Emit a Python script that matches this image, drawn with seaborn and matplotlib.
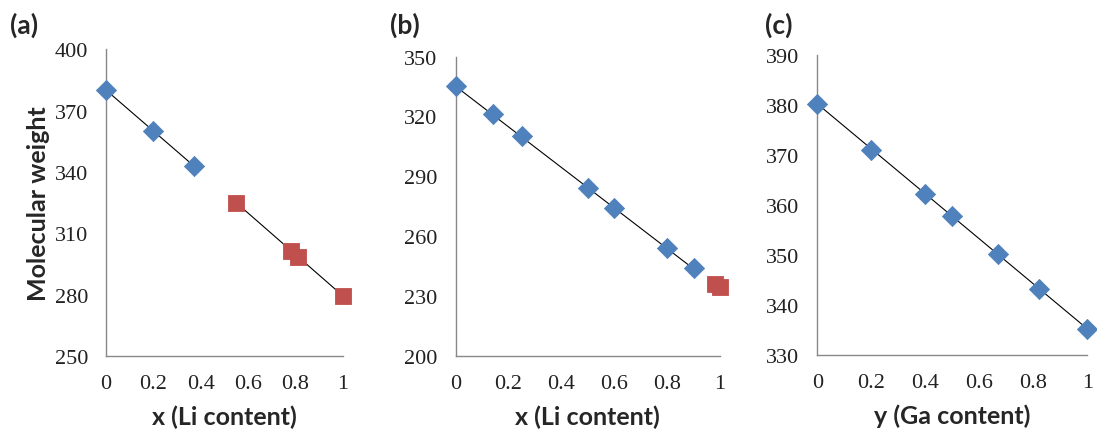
import matplotlib
matplotlib.use("Agg")
import matplotlib.pyplot as plt
import seaborn as sns
import pandas as pd

# panel (a): Li content, two series
a_blue_x = [0, 0.2, 0.37]
a_blue_y = [380, 360, 343]
a_red_x = [0.55, 0.78, 0.81, 1.0]
a_red_y = [325, 301.5, 298.5, 279.5]

# panel (b): Li content
b_blue_x = [0, 0.14, 0.25, 0.5, 0.6, 0.8, 0.9]
b_blue_y = [335, 321, 310, 284, 274, 254, 244]
b_red_x = [0.98, 1.0]
b_red_y = [236, 234.5]

# panel (c): Ga content
c_x = [0, 0.2, 0.4, 0.5, 0.67, 0.82, 1.0]
c_y = [380.3, 371.1, 362.3, 357.9, 350.2, 343.3, 335.2]

x_ticks = [0, 0.2, 0.4, 0.6, 0.8, 1]
x_ticklabels = ["0", "0.2", "0.4", "0.6", "0.8", "1"]
a_yticks = [250, 280, 310, 340, 370, 400]
b_yticks = [200, 230, 260, 290, 320, 350]
c_yticks = [330, 340, 350, 360, 370, 380, 390]

panel_tags = ["(a)", "(b)", "(c)"]
x_labels = ["x (Li content)", "x (Li content)", "y (Ga content)"]
y_label = "Molecular weight"

blue = "#4F81BD"
red = "#C0504D"

sns.set_style("white")
plt.rcParams["font.family"] = ["Liberation Serif", "DejaVu Serif"]

fig = plt.figure(figsize=(10.97, 4.39), dpi=100)
ax_a = fig.add_axes([0.0966, 0.1868, 0.216, 0.699])
ax_b = fig.add_axes([0.4154, 0.186, 0.2409, 0.683])
ax_c = fig.add_axes([0.745, 0.189, 0.2461, 0.683])


def dots(ax, xs, ys, color, marker, size):
    df = pd.DataFrame({"x": xs, "y": ys})
    sns.scatterplot(data=df, x="x", y="y", ax=ax, color=color, marker=marker,
                    s=size, edgecolor=color, linewidth=0.6, zorder=3, clip_on=False)


def trend(ax, xs, ys):
    df = pd.DataFrame({"x": xs, "y": ys})
    sns.regplot(data=df, x="x", y="y", ax=ax, scatter=False, ci=None,
                color="black", line_kws={"lw": 0.8}, truncate=True)


trend(ax_a, a_blue_x, a_blue_y)
trend(ax_a, a_red_x, a_red_y)
dots(ax_a, a_blue_x, a_blue_y, blue, "D", 105)
dots(ax_a, a_red_x, a_red_y, red, "s", 120)

trend(ax_b, b_blue_x, b_blue_y)
dots(ax_b, b_blue_x, b_blue_y, blue, "D", 105)
dots(ax_b, b_red_x, b_red_y, red, "s", 120)

trend(ax_c, c_x, c_y)
dots(ax_c, c_x, c_y, blue, "D", 105)

for ax, yt, tag, xl in zip([ax_a, ax_b, ax_c], [a_yticks, b_yticks, c_yticks],
                           panel_tags, x_labels):
    ax.set_xlim(0, 1)
    ax.set_ylim(yt[0], yt[-1])
    ax.set_xticks(x_ticks)
    ax.set_xticklabels(x_ticklabels)
    ax.set_yticks(yt)
    ax.tick_params(length=0, labelsize=16, pad=13, colors="#222222")
    for s in ["top", "right"]:
        ax.spines[s].set_visible(False)
    for s in ["left", "bottom"]:
        ax.spines[s].set_color("#888888")
        ax.spines[s].set_linewidth(1)
    ax.set_xlabel(xl, fontfamily="Lato", fontweight="bold", fontsize=18, labelpad=8)
    ax.set_ylabel("")

ax_a.set_ylabel(y_label, fontfamily="Lato", fontweight="bold", fontsize=18, labelpad=3)

fig.text(10 / 1097, 1 - 25 / 439, panel_tags[0], fontfamily="Lato", fontweight="bold",
         fontsize=19, va="center", ha="left")
fig.text(390 / 1097, 1 - 25 / 439, panel_tags[1], fontfamily="Lato", fontweight="bold",
         fontsize=19, va="center", ha="left")
fig.text(765 / 1097, 1 - 25 / 439, panel_tags[2], fontfamily="Lato", fontweight="bold",
         fontsize=19, va="center", ha="left")

fig.savefig("out.png", dpi=100)
